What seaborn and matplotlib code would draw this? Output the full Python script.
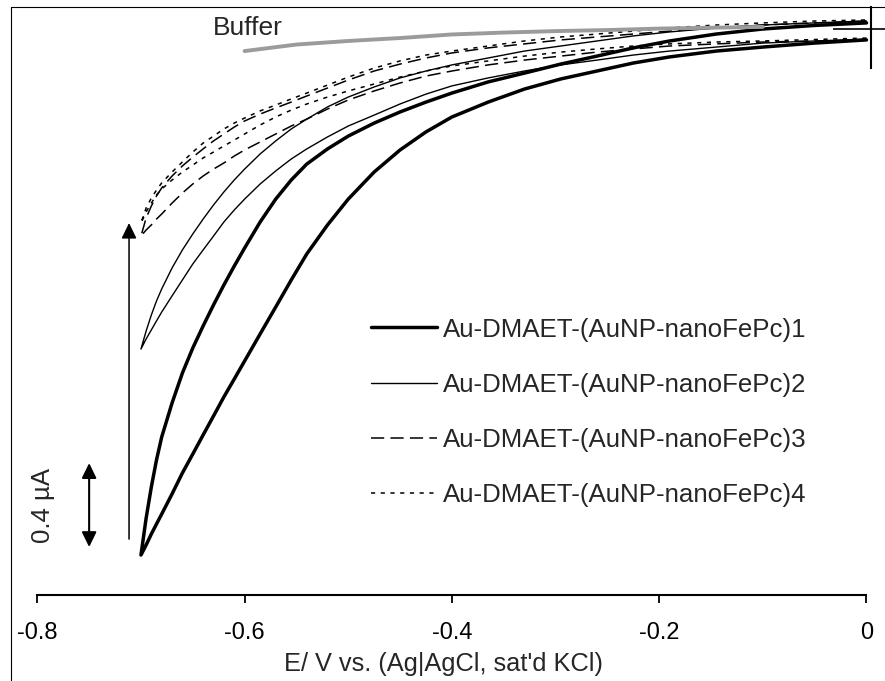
import matplotlib
matplotlib.use("Agg")
import matplotlib.pyplot as plt
from matplotlib.lines import Line2D
import pandas as pd
import seaborn as sns

# Potential grid (V vs. Ag|AgCl) shared by all voltammogram branches
potential = [-0.700, -0.695, -0.690, -0.685, -0.680, -0.670, -0.660, -0.650, -0.640,
             -0.630, -0.620, -0.610, -0.600, -0.585, -0.570, -0.555, -0.540, -0.520,
             -0.500, -0.475, -0.450, -0.425, -0.400, -0.365, -0.330, -0.295, -0.260,
             -0.225, -0.190, -0.145, -0.100, -0.050, 0.000]

# Currents (µA): lower branch (cathodic sweep) and upper branch (return sweep)
lower_1 = [-2.505, -2.457, -2.405, -2.357, -2.310, -2.214, -2.114, -2.024, -1.933,
           -1.843, -1.752, -1.667, -1.581, -1.452, -1.324, -1.195, -1.071, -0.933,
           -0.810, -0.681, -0.576, -0.490, -0.419, -0.348, -0.286, -0.238, -0.200,
           -0.162, -0.133, -0.105, -0.086, -0.067, -0.052]
upper_1 = [-2.505, -2.329, -2.181, -2.052, -1.943, -1.781, -1.638, -1.519, -1.414,
           -1.314, -1.219, -1.129, -1.043, -0.919, -0.810, -0.719, -0.643, -0.571,
           -0.510, -0.448, -0.395, -0.348, -0.305, -0.252, -0.210, -0.167, -0.129,
           -0.090, -0.057, -0.024, 0.000, 0.017, 0.029]

lower_2 = [-1.524, -1.476, -1.433, -1.390, -1.348, -1.271, -1.195, -1.119, -1.052,
           -0.986, -0.919, -0.862, -0.810, -0.738, -0.676, -0.619, -0.571, -0.514,
           -0.462, -0.410, -0.357, -0.310, -0.271, -0.233, -0.200, -0.171, -0.148,
           -0.124, -0.105, -0.086, -0.067, -0.057, -0.048]
upper_2 = [-1.524, -1.438, -1.362, -1.295, -1.238, -1.138, -1.052, -0.976, -0.905,
           -0.838, -0.776, -0.719, -0.667, -0.595, -0.533, -0.476, -0.429, -0.371,
           -0.324, -0.276, -0.233, -0.200, -0.171, -0.138, -0.105, -0.081, -0.057,
           -0.033, -0.014, 0.005, 0.019, 0.029, 0.038]

lower_3 = [-0.986, -0.957, -0.933, -0.905, -0.881, -0.829, -0.781, -0.738, -0.700,
           -0.667, -0.638, -0.605, -0.576, -0.538, -0.500, -0.462, -0.429, -0.381,
           -0.338, -0.295, -0.257, -0.224, -0.200, -0.171, -0.148, -0.129, -0.110,
           -0.095, -0.081, -0.071, -0.062, -0.057, -0.052]
upper_3 = [-0.986, -0.900, -0.843, -0.795, -0.757, -0.700, -0.652, -0.610, -0.571,
           -0.533, -0.500, -0.467, -0.438, -0.405, -0.376, -0.348, -0.319, -0.281,
           -0.243, -0.200, -0.167, -0.138, -0.114, -0.090, -0.071, -0.052, -0.038,
           -0.024, -0.010, 0.005, 0.019, 0.029, 0.038]

lower_4 = [-0.924, -0.871, -0.829, -0.790, -0.762, -0.719, -0.681, -0.648, -0.614,
           -0.586, -0.557, -0.529, -0.500, -0.457, -0.419, -0.386, -0.357, -0.324,
           -0.295, -0.262, -0.229, -0.200, -0.176, -0.152, -0.129, -0.110, -0.095,
           -0.081, -0.071, -0.062, -0.057, -0.050, -0.043]
upper_4 = [-0.924, -0.852, -0.805, -0.767, -0.733, -0.681, -0.633, -0.586, -0.543,
           -0.510, -0.476, -0.448, -0.424, -0.390, -0.362, -0.333, -0.305, -0.267,
           -0.229, -0.186, -0.152, -0.124, -0.105, -0.081, -0.057, -0.038, -0.024,
           -0.010, 0.005, 0.019, 0.029, 0.038, 0.043]

# Blank electrode in buffer
buffer_potential = [-0.60, -0.55, -0.50, -0.45, -0.40, -0.35, -0.30, -0.25, -0.20, -0.15, -0.10]
buffer_current = [-0.105, -0.074, -0.057, -0.043, -0.026, -0.017, -0.010, -0.005, 0.002, 0.006, 0.010]

labels = ["Au-DMAET-(AuNP-nanoFePc)1", "Au-DMAET-(AuNP-nanoFePc)2",
          "Au-DMAET-(AuNP-nanoFePc)3", "Au-DMAET-(AuNP-nanoFePc)4"]

x_ticks = [-0.8, -0.6, -0.4, -0.2, 0.0]
x_tick_labels = ["-0.8", "-0.6", "-0.4", "-0.2", "0"]

scale_bar_value = 0.4        # µA
scale_bar_bottom = -2.467    # µA
scale_bar_potential = -0.750
trend_start = -2.429         # µA, tail of the trend arrow
trend_end = -0.924           # µA, head of the trend arrow
trend_potential = -0.7115

x_axis_level = -2.693
y_axis_potential = 0.0043

sns.set_style("white")
plt.rcParams["font.family"] = ["Liberation Sans", "DejaVu Sans"]
plt.rcParams["axes.unicode_minus"] = False
plt.rcParams["lines.scale_dashes"] = False

fig = plt.figure(figsize=(8.85, 6.81), dpi=100)
ax = fig.add_axes([0, 0, 1, 1])
ax.set_xlim(-0.8360, 0.01785)
ax.set_ylim(-3.1048, 0.1381)

styles = [
    dict(lw=2.5, linestyle="-"),
    dict(lw=1.0, linestyle="-"),
    dict(lw=1.1, linestyle=(0, (9.5, 4.5))),
    dict(lw=1.1, linestyle=(0, (3.0, 4.0))),
]
branches = [(lower_1, upper_1), (lower_2, upper_2), (lower_3, upper_3), (lower_4, upper_4)]

for (low, up), lab, st in zip(branches, labels, styles):
    # closed loop: sweep from 0 V down to -0.7 V and back
    loop = pd.DataFrame({
        "E": potential[::-1] + potential[1:],
        "I": low[::-1] + up[1:],
    })
    sns.lineplot(data=loop, x="E", y="I", sort=False, estimator=None, ax=ax,
                 color="black", label=lab, solid_joinstyle="round", **st)

buf = pd.DataFrame({"E": buffer_potential, "I": buffer_current})
sns.lineplot(data=buf, x="E", y="I", sort=False, estimator=None, ax=ax,
             color="#9b9b9b", lw=2.8, label="_nolegend_")
ax.text(-0.597, -0.029, "Buffer", fontsize=19, ha="center", va="baseline")

# Scale bar
ax.annotate("", xy=(scale_bar_potential, scale_bar_bottom + scale_bar_value),
            xytext=(scale_bar_potential, scale_bar_bottom),
            arrowprops=dict(arrowstyle="<|-|>,head_length=0.45,head_width=0.22",
                            color="black", lw=1.5, shrinkA=0, shrinkB=0, mutation_scale=20))
ax.text(-0.7946, scale_bar_bottom + scale_bar_value / 2, "0.4 µA", rotation=90,
        fontsize=18.5, ha="center", va="center")

# Trend arrow
ax.annotate("", xy=(trend_potential, trend_end), xytext=(trend_potential, trend_start),
            arrowprops=dict(arrowstyle="-|>,head_length=0.47,head_width=0.23",
                            color="black", lw=1.1, shrinkA=0, shrinkB=0, mutation_scale=20))

# Axes
for side in ["top", "left"]:
    ax.spines[side].set_visible(False)
ax.spines["bottom"].set_position(("data", x_axis_level))
ax.spines["bottom"].set_bounds(-0.8, 0.0)
ax.spines["bottom"].set_linewidth(1.5)
ax.spines["bottom"].set_color("black")
ax.spines["right"].set_position(("data", y_axis_potential))
ax.spines["right"].set_bounds(-0.186, 0.105)
ax.spines["right"].set_linewidth(1.5)
ax.spines["right"].set_color("black")

ax.set_xticks(x_ticks)
ax.set_xticklabels(x_tick_labels)
ax.tick_params(axis="x", direction="out", length=5.8, width=1.3, pad=14,
               labelsize=17, bottom=True, colors="black")
ax.yaxis.tick_right()
ax.set_yticks([0.0])
ax.set_yticklabels([""])
ax.tick_params(axis="y", direction="inout", length=55, width=1.4, right=True, left=False)

ax.set_xlabel("E/ V vs. (Ag|AgCl, sat'd KCl)", fontsize=18.3)
ax.xaxis.set_label_coords(443 / 885, 1 - 652 / 681)
ax.set_ylabel("")

ax.legend(loc="upper left", bbox_to_anchor=(370.7 / 885, 1 - 317.5 / 681),
          frameon=False, fontsize=18.6, handlelength=2.55, handletextpad=0.23,
          labelspacing=1.21, borderpad=0, borderaxespad=0)

# Chart frame
fig.add_artist(Line2D([11 / 885, 11 / 885], [0, 1 - 7 / 681], transform=fig.transFigure,
                      color="black", lw=0.8))
fig.add_artist(Line2D([11 / 885, 1], [1 - 7 / 681, 1 - 7 / 681], transform=fig.transFigure,
                      color="black", lw=0.8))

fig.savefig("out.png", dpi=100)
